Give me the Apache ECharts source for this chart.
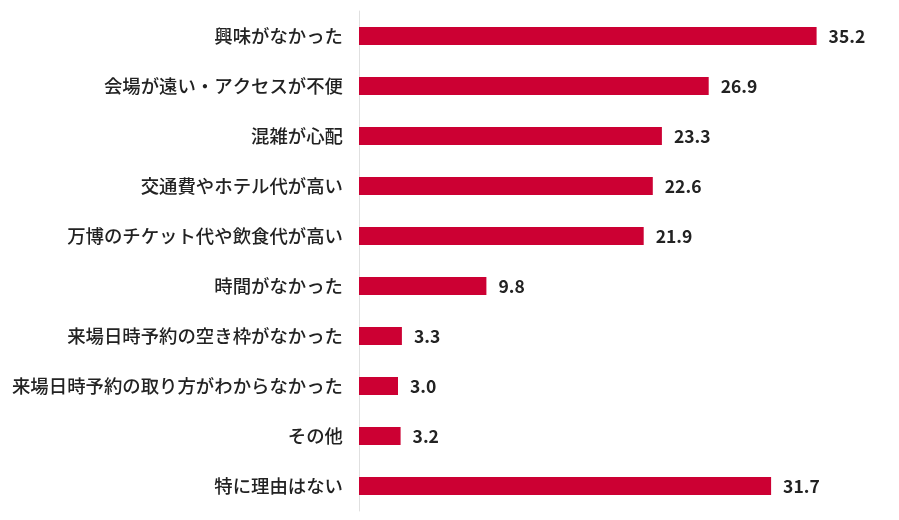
<!DOCTYPE html>
<html><head><meta charset="utf-8">
<script src="https://cdn.jsdelivr.net/npm/echarts@6/dist/echarts.min.js"></script>
<style>html,body{margin:0;padding:0;background:#fff}#c{width:899px;height:520px}</style>
</head><body><div id="c"></div>
<script>
const categories = ["興味がなかった","会場が遠い・アクセスが不便","混雑が心配","交通費やホテル代が高い","万博のチケット代や飲食代が高い","時間がなかった","来場日時予約の空き枠がなかった","来場日時予約の取り方がわからなかった","その他","特に理由はない"];
const values = [35.2,26.9,23.3,22.6,21.9,9.8,3.3,3.0,3.2,31.7];
const chart = echarts.init(document.getElementById('c'));
chart.setOption({
  animation:false,
  grid:{left:359,right:20,top:11,bottom:9,containLabel:false},
  xAxis:{type:'value',min:0,max:40,show:false},
  yAxis:{type:'category',inverse:true,data:categories,
    axisLine:{show:true,lineStyle:{color:'#e0e0e0',width:1}},
    axisTick:{show:false},
    axisLabel:{margin:16,color:'#222',fontSize:18.4,fontWeight:500,fontFamily:'"Noto Sans CJK JP"'}},
  series:[{type:'bar',data:values,barWidth:18,
    itemStyle:{color:'#CC0033'},
    label:{show:true,position:'right',distance:12,color:'#222',fontSize:17.5,fontWeight:'bold',fontFamily:'"Noto Sans CJK JP"',formatter:p=>p.value.toFixed(1)}}]
});
</script></body></html>
